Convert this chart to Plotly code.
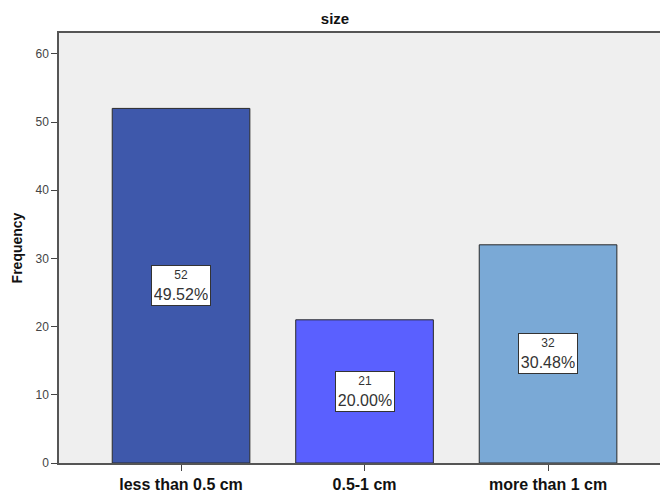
import plotly.graph_objects as go

categories = ["less than 0.5 cm", "0.5-1 cm", "more than 1 cm"]
counts = [52, 21, 32]
percents = ["49.52%", "20.00%", "30.48%"]
colors = ["#3E58AB", "#5A60FF", "#7AA9D6"]
yticks = [0, 10, 20, 30, 40, 50, 60]

FONT = "Liberation Sans, Arial, sans-serif"

fig = go.Figure()
fig.add_trace(go.Bar(
    x=list(range(len(categories))),
    y=counts,
    width=0.75,
    marker=dict(color=colors, line=dict(color="#2a2a2a", width=1)),
    hoverinfo="skip",
))

for i, (c, p) in enumerate(zip(counts, percents)):
    fig.add_annotation(
        x=i, y=c / 2, xref="x", yref="y",
        text=f"<span style='font-size:12px'>{c}</span><br>{p}",
        showarrow=False,
        bgcolor="white", bordercolor="#333333", borderwidth=1, borderpad=2,
        font=dict(family=FONT, size=16, color="#333333"),
        align="center", width=54,
    )

fig.update_layout(
    width=660, height=493,
    margin=dict(l=59, r=0, t=33, b=30),
    paper_bgcolor="white",
    plot_bgcolor="#EFEFEF",
    showlegend=False,
    font=dict(family=FONT, color="#222222"),
    title=dict(text="<b>size</b>", x=335 / 660, xanchor="center", y=1 - 19 / 493, yanchor="middle",
               font=dict(family=FONT, size=15, color="#111111")),
    bargap=0.25,
)
fig.update_xaxes(
    range=[-0.665, 2.61],
    tickvals=list(range(len(categories))),
    ticktext=[f"<b>{c}</b>" for c in categories],
    tickfont=dict(family=FONT, size=16, color="#111111"),
    ticks="outside", ticklen=6, tickcolor="#444444", tickwidth=1,
    showline=True, linecolor="#555555", linewidth=1.5, mirror=True,
    showgrid=False, zeroline=False, fixedrange=True,
)
fig.update_yaxes(
    range=[0, 63.06],
    tickvals=yticks,
    tickfont=dict(family=FONT, size=12, color="#444444"),
    ticks="outside", ticklen=6, tickcolor="#444444", tickwidth=1,
    showline=True, linecolor="#555555", linewidth=1.5,
    showgrid=False, zeroline=False,
    title=dict(text="<b>Frequency</b>", font=dict(family=FONT, size=14, color="#111111"), standoff=10),
)

fig.write_html("out.html")
